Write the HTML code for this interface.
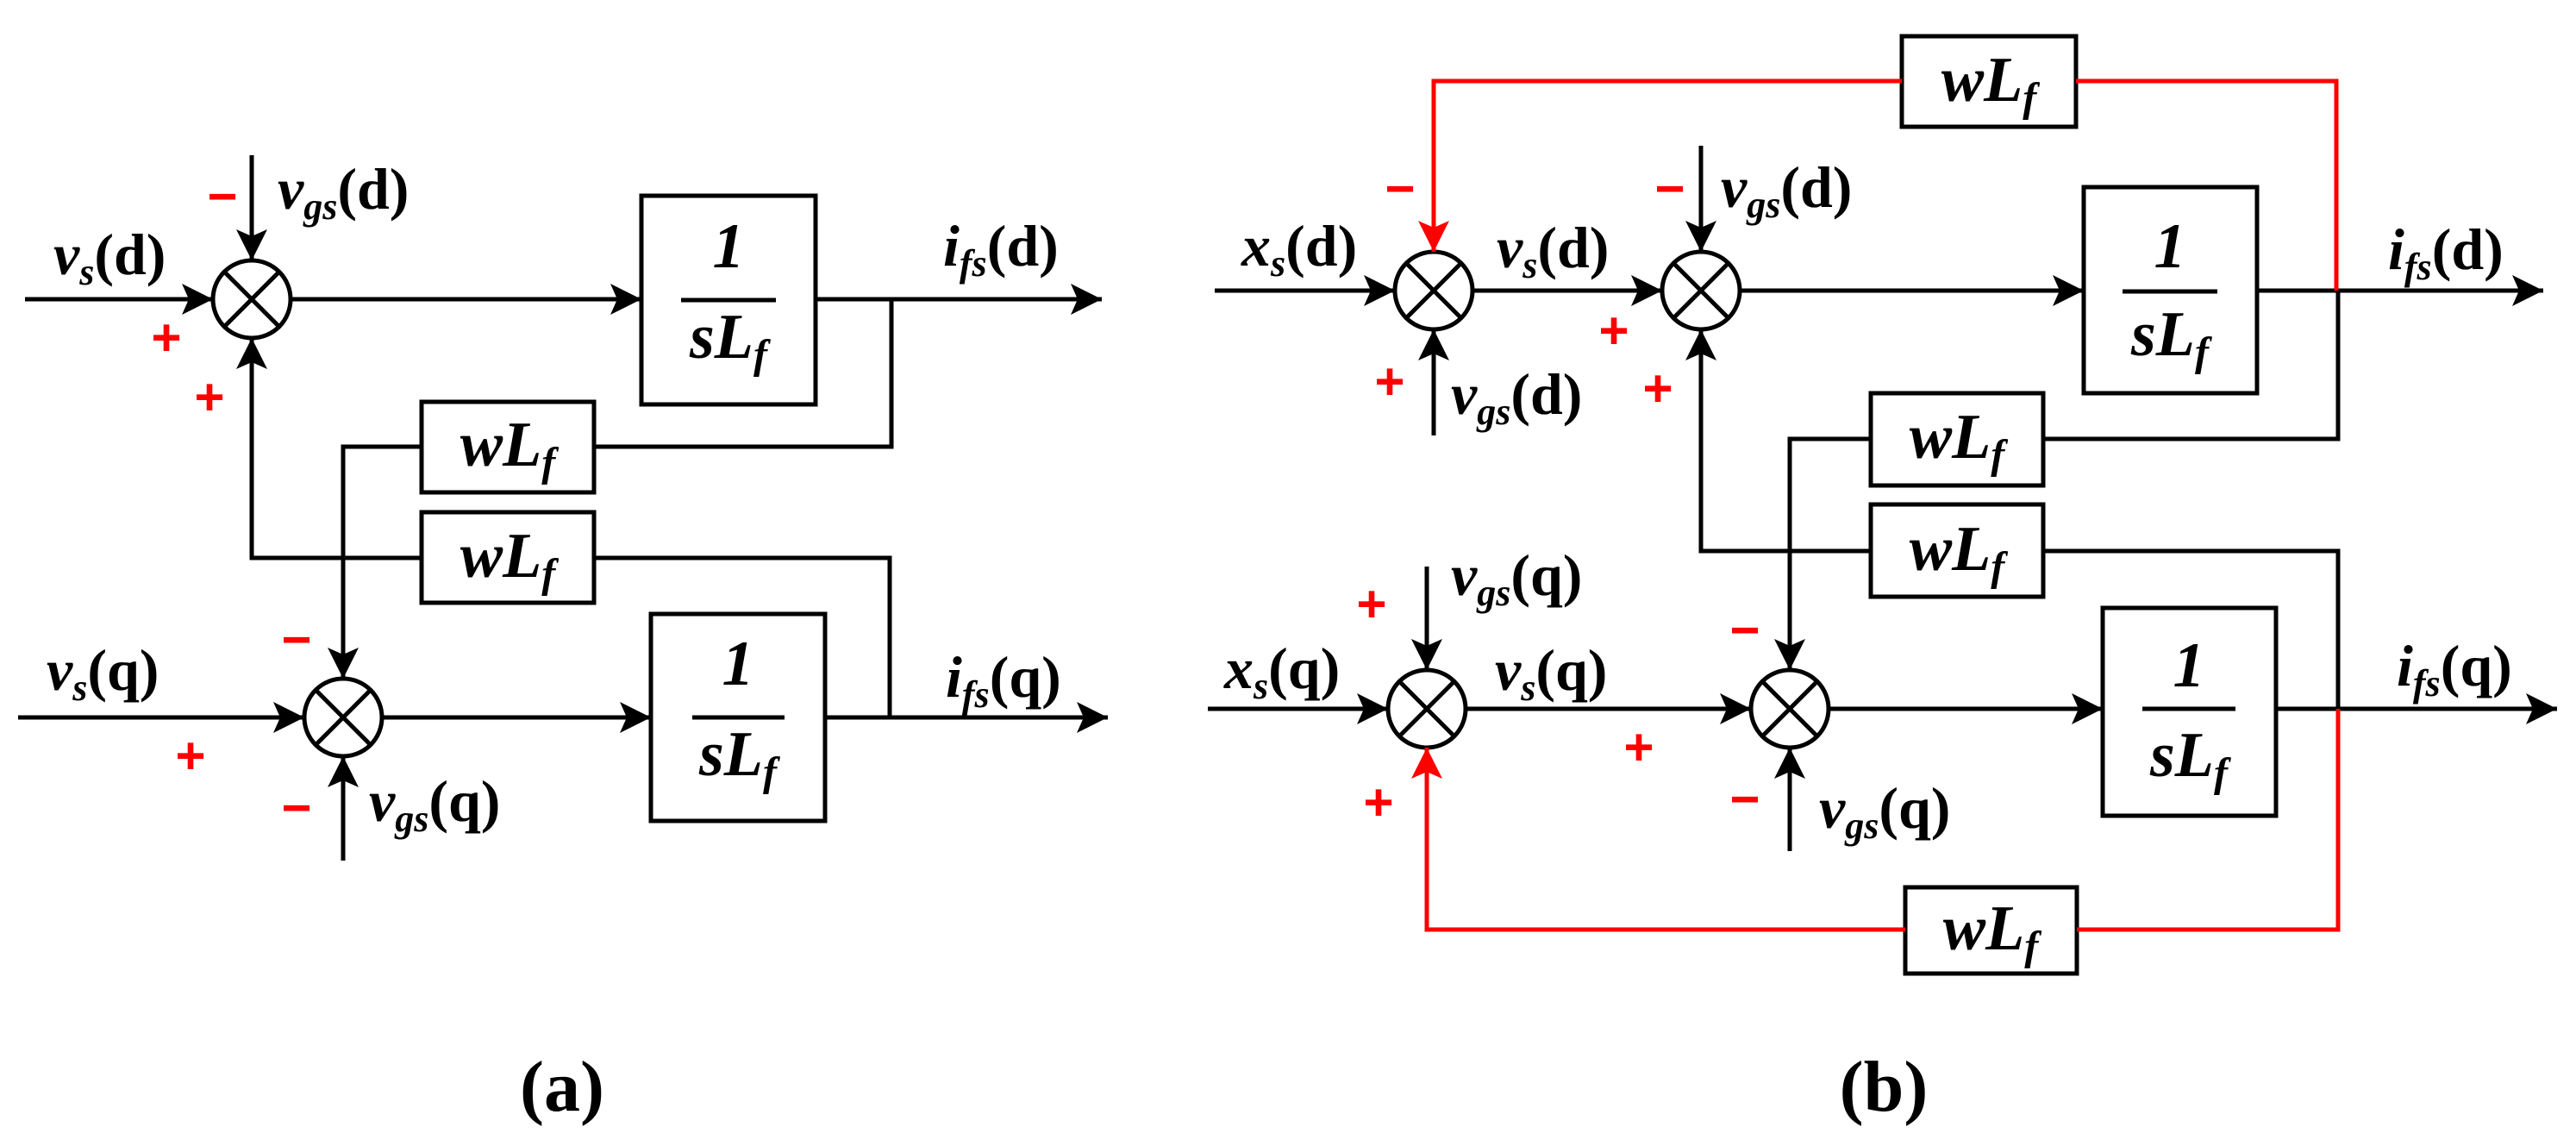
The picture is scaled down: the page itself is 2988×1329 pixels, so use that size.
<!DOCTYPE html>
<html><head><meta charset="utf-8"><style>
html,body{margin:0;padding:0;background:#fff;}
svg{display:block;}
svg text{font-family:"Liberation Serif","DejaVu Serif",serif;font-weight:bold;fill:#000;}
svg .i{font-style:italic;}
svg text.pm{font-family:"Liberation Sans",sans-serif;font-weight:bold;fill:#f00;font-size:60px;}
</style></head><body>
<svg width="2988" height="1329" viewBox="0 0 2988 1329" xmlns="http://www.w3.org/2000/svg" font-family="Liberation Serif, serif" font-weight="bold">
<defs>
<marker id="a" markerUnits="userSpaceOnUse" markerWidth="40" markerHeight="36" refX="36" refY="18" orient="auto">
<path d="M0,0 L36,18 L0,36 L8,18 Z" fill="#000"/></marker>
<marker id="r" markerUnits="userSpaceOnUse" markerWidth="40" markerHeight="36" refX="36" refY="18" orient="auto">
<path d="M0,0 L36,18 L0,36 L8,18 Z" fill="#f00"/></marker>
</defs>
<g stroke="#000" stroke-width="5" fill="none">
<ellipse cx="292" cy="347" rx="45" ry="45" fill="#fff"/>
<line x1="260" y1="315" x2="324" y2="379"/><line x1="324" y1="315" x2="260" y2="379"/>
<line x1="29" y1="347" x2="247" y2="347" marker-end="url(#a)"/>
<line x1="292" y1="180" x2="292" y2="302" marker-end="url(#a)"/>
<line x1="337" y1="347" x2="744" y2="347" marker-end="url(#a)"/>
<rect x="744" y="227" width="202" height="242"/>
<line x1="946" y1="347" x2="1278" y2="347" marker-end="url(#a)"/>
<polyline points="1034,347 1034,518 689,518"/>
<rect x="489" y="466" width="200" height="105"/>
<polyline points="489,518 398,518 398,787" marker-end="url(#a)"/>
<rect x="489" y="594" width="200" height="105"/>
<polyline points="689,647 1032,647 1032,832"/>
<polyline points="489,647 292,647 292,392" marker-end="url(#a)"/>
<ellipse cx="398" cy="832" rx="45" ry="45" fill="#fff"/>
<line x1="366" y1="800" x2="430" y2="864"/><line x1="430" y1="800" x2="366" y2="864"/>
<line x1="21" y1="832" x2="353" y2="832" marker-end="url(#a)"/>
<line x1="398" y1="998" x2="398" y2="877" marker-end="url(#a)"/>
<line x1="443" y1="832" x2="755" y2="832" marker-end="url(#a)"/>
<rect x="755" y="712" width="202" height="240"/>
<line x1="957" y1="832" x2="1285" y2="832" marker-end="url(#a)"/>
<line x1="790" y1="348" x2="900" y2="348"/>
<line x1="803" y1="832" x2="910" y2="832"/>

<rect x="2206" y="42" width="202" height="105"/>
<ellipse cx="1663" cy="337" rx="45" ry="45" fill="#fff"/>
<line x1="1631" y1="305" x2="1695" y2="369"/><line x1="1695" y1="305" x2="1631" y2="369"/>
<line x1="1409" y1="337" x2="1618" y2="337" marker-end="url(#a)"/>
<line x1="1663" y1="505" x2="1663" y2="382" marker-end="url(#a)"/>
<line x1="1708" y1="337" x2="1928" y2="337" marker-end="url(#a)"/>
<ellipse cx="1973" cy="337" rx="45" ry="45" fill="#fff"/>
<line x1="1941" y1="305" x2="2005" y2="369"/><line x1="2005" y1="305" x2="1941" y2="369"/>
<line x1="1973" y1="169" x2="1973" y2="292" marker-end="url(#a)"/>
<line x1="2018" y1="337" x2="2417" y2="337" marker-end="url(#a)"/>
<rect x="2417" y="217" width="201" height="239"/>
<line x1="2618" y1="337" x2="2950" y2="337" marker-end="url(#a)"/>
<line x1="2462" y1="338" x2="2572" y2="338"/>
<polyline points="2712,337 2712,509 2370,509"/>
<rect x="2170" y="456" width="200" height="107"/>
<polyline points="2170,509 2076,509 2076,777" marker-end="url(#a)"/>
<rect x="2170" y="585" width="200" height="107"/>
<polyline points="2370,639 2712,639 2712,822"/>
<polyline points="2170,639 1973,639 1973,382" marker-end="url(#a)"/>
<ellipse cx="1655" cy="822" rx="45" ry="45" fill="#fff"/>
<line x1="1623" y1="790" x2="1687" y2="854"/><line x1="1687" y1="790" x2="1623" y2="854"/>
<line x1="1401" y1="822" x2="1610" y2="822" marker-end="url(#a)"/>
<line x1="1655" y1="657" x2="1655" y2="777" marker-end="url(#a)"/>
<line x1="1700" y1="822" x2="2031" y2="822" marker-end="url(#a)"/>
<ellipse cx="2076" cy="822" rx="45" ry="45" fill="#fff"/>
<line x1="2044" y1="790" x2="2108" y2="854"/><line x1="2108" y1="790" x2="2044" y2="854"/>
<line x1="2076" y1="987" x2="2076" y2="867" marker-end="url(#a)"/>
<line x1="2121" y1="822" x2="2439" y2="822" marker-end="url(#a)"/>
<rect x="2439" y="705" width="201" height="241"/>
<line x1="2640" y1="822" x2="2966" y2="822" marker-end="url(#a)"/>
<line x1="2485" y1="822" x2="2593" y2="822"/>
<rect x="2210" y="1029" width="199" height="100"/>
</g>
<g stroke="#f00" stroke-width="5" fill="none">
<polyline points="2206,94 1663,94 1663,292" marker-end="url(#r)"/>
<polyline points="2408,94 2710,94 2710,337"/>
<polyline points="2712,822 2712,1078 2409,1078"/>
<polyline points="2210,1078 1655,1078 1655,867" marker-end="url(#r)"/>
</g>

<g font-size="68" font-family="Liberation Serif, serif" font-weight="bold">
<text x="62" y="318"><tspan class="i">v</tspan><tspan class="i" font-size="44" dy="12">s</tspan><tspan dy="-12">(d)</tspan></text>
<text x="322" y="242"><tspan class="i">v</tspan><tspan class="i" font-size="44" dy="12">gs</tspan><tspan dy="-12">(d)</tspan></text>
<text x="1094" y="308"><tspan class="i">i</tspan><tspan class="i" font-size="44" dy="12">fs</tspan><tspan dy="-12">(d)</tspan></text>
<text x="54" y="800"><tspan class="i">v</tspan><tspan class="i" font-size="44" dy="12">s</tspan><tspan dy="-12">(q)</tspan></text>
<text x="1097" y="808"><tspan class="i">i</tspan><tspan class="i" font-size="44" dy="12">fs</tspan><tspan dy="-12">(q)</tspan></text>
<text x="428" y="952"><tspan class="i">v</tspan><tspan class="i" font-size="44" dy="12">gs</tspan><tspan dy="-12">(q)</tspan></text>

<text x="1440" y="308"><tspan class="i">x</tspan><tspan class="i" font-size="44" dy="12">s</tspan><tspan dy="-12">(d)</tspan></text>
<text x="1736" y="310"><tspan class="i">v</tspan><tspan class="i" font-size="44" dy="12">s</tspan><tspan dy="-12">(d)</tspan></text>
<text x="1996" y="240"><tspan class="i">v</tspan><tspan class="i" font-size="44" dy="12">gs</tspan><tspan dy="-12">(d)</tspan></text>
<text x="1683" y="480"><tspan class="i">v</tspan><tspan class="i" font-size="44" dy="12">gs</tspan><tspan dy="-12">(d)</tspan></text>
<text x="2770" y="312"><tspan class="i">i</tspan><tspan class="i" font-size="44" dy="12">fs</tspan><tspan dy="-12">(d)</tspan></text>
<text x="1683" y="690"><tspan class="i">v</tspan><tspan class="i" font-size="44" dy="12">gs</tspan><tspan dy="-12">(q)</tspan></text>
<text x="1420" y="798"><tspan class="i">x</tspan><tspan class="i" font-size="44" dy="12">s</tspan><tspan dy="-12">(q)</tspan></text>
<text x="1734" y="800"><tspan class="i">v</tspan><tspan class="i" font-size="44" dy="12">s</tspan><tspan dy="-12">(q)</tspan></text>
<text x="2780" y="795"><tspan class="i">i</tspan><tspan class="i" font-size="44" dy="12">fs</tspan><tspan dy="-12">(q)</tspan></text>
<text x="2110" y="960"><tspan class="i">v</tspan><tspan class="i" font-size="44" dy="12">gs</tspan><tspan dy="-12">(q)</tspan></text>
</g>
<g font-size="74" text-anchor="middle" font-family="Liberation Serif, serif" font-weight="bold" font-style="italic">
<text class="i" x="845" y="310">1</text>
<text class="i" x="845" y="415">sL<tspan font-size="48" dy="12">f</tspan></text>
<text class="i" x="856" y="794">1</text>
<text class="i" x="856" y="899">sL<tspan font-size="48" dy="12">f</tspan></text>
<text class="i" x="589" y="540">wL<tspan font-size="48" dy="12">f</tspan></text>
<text class="i" x="589" y="669">wL<tspan font-size="48" dy="12">f</tspan></text>
<text class="i" x="2307" y="117">wL<tspan font-size="48" dy="12">f</tspan></text>
<text class="i" x="2517" y="310">1</text>
<text class="i" x="2517" y="412">sL<tspan font-size="48" dy="12">f</tspan></text>
<text class="i" x="2270" y="531">wL<tspan font-size="48" dy="12">f</tspan></text>
<text class="i" x="2270" y="661">wL<tspan font-size="48" dy="12">f</tspan></text>
<text class="i" x="2539" y="796">1</text>
<text class="i" x="2539" y="900">sL<tspan font-size="48" dy="12">f</tspan></text>
<text class="i" x="2309" y="1101">wL<tspan font-size="48" dy="12">f</tspan></text>
</g>
<text x="652" y="1288" font-size="84" text-anchor="middle" font-family="Liberation Serif, serif" font-weight="bold">(a)</text>
<text x="2185" y="1288" font-size="84" text-anchor="middle" font-family="Liberation Serif, serif" font-weight="bold">(b)</text>

<g text-anchor="middle" font-family="Liberation Sans, sans-serif" font-size="60" fill="#f00">
<text class="pm" x="258" y="248">−</text>
<text class="pm" x="193" y="412">+</text>
<text class="pm" x="243" y="481">+</text>
<text class="pm" x="344" y="762">−</text>
<text class="pm" x="221" y="897">+</text>
<text class="pm" x="344" y="957">−</text>
<text class="pm" x="1624" y="239">−</text>
<text class="pm" x="1937" y="239">−</text>
<text class="pm" x="1872" y="404">+</text>
<text class="pm" x="1612" y="463">+</text>
<text class="pm" x="1923" y="471">+</text>
<text class="pm" x="1591" y="721">+</text>
<text class="pm" x="2024" y="751">−</text>
<text class="pm" x="1901" y="887">+</text>
<text class="pm" x="1599" y="951">+</text>
<text class="pm" x="2024" y="947">−</text>
</g>
</svg>
</body></html>
